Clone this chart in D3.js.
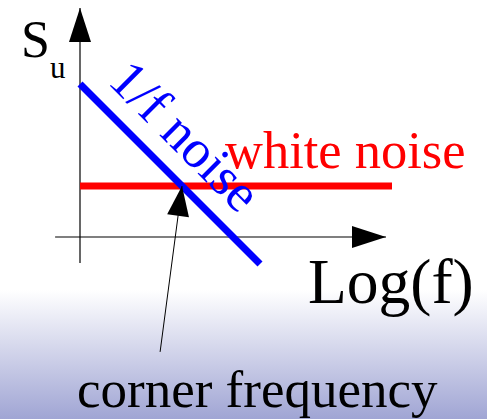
<!DOCTYPE html>
<html><head><meta charset="utf-8">
<script src="https://cdn.jsdelivr.net/npm/d3@7"></script>
<style>html,body{margin:0;padding:0;background:#fff;}svg{display:block;}</style>
</head><body>
<script>
// Data (schematic log-log noise spectrum, arbitrary units)
const axisX = [{x:-8.3, y:0},{x:102, y:0}];      // Log(f) axis
const axisY = [{x:0, y:-8.7},{x:0, y:76.3}];     // S_u axis
const whiteNoise = [{x:0, y:17},{x:104, y:17}];  // flat white noise floor
const flickerNoise = [{x:0, y:51},{x:60, y:-9}]; // 1/f noise, slope -1
const corner = {x:34, y:17};                     // corner frequency
const cornerLabelPoint = {x:26.7, y:-38.3};
const labels = {yTitle:"S", ySub:"u", xTitle:"Log(f)", white:"white noise", flicker:"1/f noise", corner:"corner frequency"};

const W = 487, H = 419;
const svg = d3.select("body").append("svg").attr("width", W).attr("height", H);
const defs = svg.append("defs");
const grad = defs.append("linearGradient").attr("id","bg").attr("x1",0).attr("y1",0).attr("x2",0).attr("y2",1);
grad.append("stop").attr("offset","0%").attr("stop-color","#ffffff");
grad.append("stop").attr("offset", (290/H*100)+"%").attr("stop-color","#ffffff");
grad.append("stop").attr("offset","100%").attr("stop-color","#a0a5d4");
svg.append("rect").attr("width",W).attr("height",H).attr("fill","url(#bg)");

const x = d3.scaleLinear().domain([0,100]).range([80,380]);
const y = d3.scaleLinear().domain([0,100]).range([237,-63]);
const line = d3.line().x(d=>x(d.x)).y(d=>y(d.y));

function arrowHead(p0, p1, len, halfW){
  const X0=x(p0.x), Y0=y(p0.y), X1=x(p1.x), Y1=y(p1.y);
  const dx=X1-X0, dy=Y1-Y0, L=Math.hypot(dx,dy), ux=dx/L, uy=dy/L;
  const bx=X1-ux*len, by=Y1-uy*len;
  return [[X1,Y1],[bx-uy*halfW, by+ux*halfW],[bx+uy*halfW, by-ux*halfW]];
}
const poly = pts => "M"+pts.map(p=>p.join(",")).join("L")+"Z";

// axes
svg.append("path").attr("d", line(axisY)).attr("stroke","#000").attr("stroke-width",1.2).attr("fill","none");
svg.append("path").attr("d", poly(arrowHead(axisY[0], axisY[1], 34, 11))).attr("fill","#000");
svg.append("path").attr("d", line(axisX)).attr("stroke","#000").attr("stroke-width",1.2).attr("fill","none");
svg.append("path").attr("d", poly(arrowHead(axisX[0], axisX[1], 34, 11))).attr("fill","#000");

// noise lines
svg.append("path").attr("d", line(whiteNoise)).attr("stroke","#ff0000").attr("stroke-width",7).attr("fill","none");
svg.append("path").attr("d", line(flickerNoise)).attr("stroke","#0000ff").attr("stroke-width",7).attr("fill","none");

// corner frequency pointer
svg.append("path").attr("d", line([cornerLabelPoint, corner])).attr("stroke","#000").attr("stroke-width",1).attr("fill","none");
svg.append("path").attr("d", poly(arrowHead(cornerLabelPoint, corner, 30, 11))).attr("fill","#000");

const fam = "Liberation Serif";
const txt = (s, px, py, size, color) => svg.append("text").attr("x",px).attr("y",py)
  .attr("font-family",fam).attr("font-size",size).attr("fill",color).text(s);

txt(labels.yTitle, 21, 56.5, 52, "#000");
txt(labels.ySub, 50, 78.3, 31, "#000");
txt(labels.xTitle, 308, 303, 63.5, "#000");
txt(labels.white, 225, 168, 52.5, "#ff0000");
txt(labels.corner, 77, 407, 53, "#000");
txt(labels.flicker, 0, 0, 54, "#0000ff").attr("transform","translate(106.5,82.5) rotate(45)");
</script>
</body></html>
